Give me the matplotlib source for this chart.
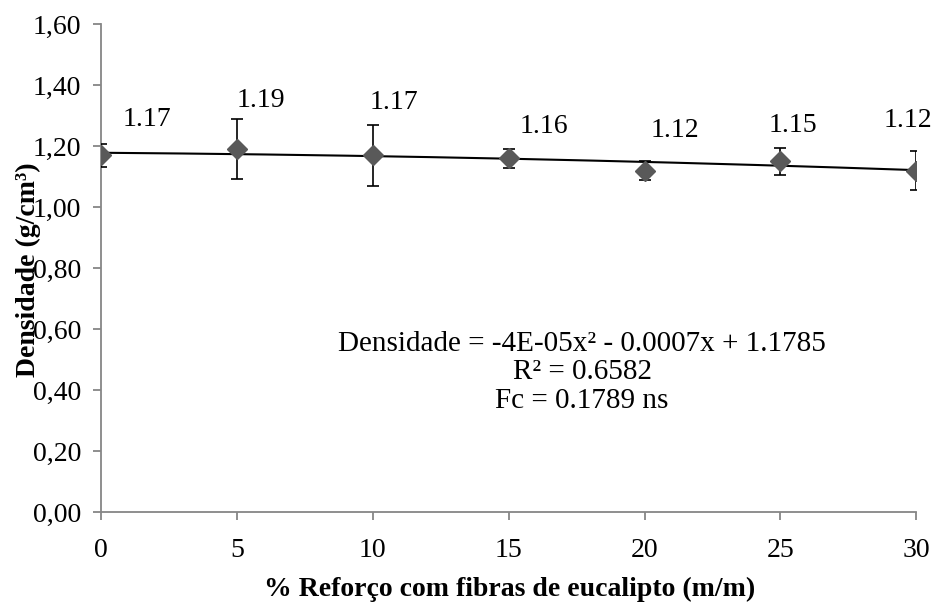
import numpy as np
import matplotlib
matplotlib.use("Agg")
import matplotlib.pyplot as plt

# data: density by fibre content
reforco = [0, 5, 10, 15, 20, 25, 30]
densidade = [1.17, 1.19, 1.17, 1.16, 1.12, 1.15, 1.12]
desvio = [0.038, 0.098, 0.10, 0.031, 0.030, 0.044, 0.064]
rotulos = ["1.17", "1.19", "1.17", "1.16", "1.12", "1.15", "1.12"]

# fitted polynomial (from the equation shown on the chart)
coef = [-4e-05, -0.0007, 1.1785]

y_ticks = [0.0, 0.2, 0.4, 0.6, 0.8, 1.0, 1.2, 1.4, 1.6]
x_ticks = [0, 5, 10, 15, 20, 25, 30]

# label offsets in points (dx, dy)
offsets = [(33, 26), (17, 35), (15, 38), (25, 23), (22, 29), (9, 26), (-6, 36)]

plt.rcParams['font.family'] = ['Liberation Serif', 'DejaVu Serif']
grey = '#868686'
fs = 20

fig = plt.figure(figsize=(9.36, 6.06), dpi=100)
ax = fig.add_axes([0.108, 0.155, 0.871, 0.805])

# trend line
xf = np.linspace(0, 30, 200)
ax.plot(xf, np.polyval(coef, xf), color='black', lw=1.5, zorder=2)

# points with error bars
ax.errorbar(reforco, densidade, yerr=desvio, fmt='D', color='#595959',
            markersize=10, ecolor='black', elinewidth=1.2, capsize=4.5,
            capthick=1.2, zorder=3)

for x, y, t, (dx, dy) in zip(reforco, densidade, rotulos, offsets):
    ax.annotate(t, (x, y), xytext=(dx, dy), textcoords='offset points',
                ha='center', va='center', fontsize=fs)

ax.set_xlim(0, 30)
ax.set_ylim(0, 1.6)
ax.set_xticks(x_ticks)
ax.set_yticks(y_ticks)
ax.set_yticklabels([f"{v:.2f}".replace('.', ',') for v in y_ticks])
ax.tick_params(axis='both', labelsize=fs, color=grey, width=1.3, length=6,
               direction='out')
ax.tick_params(axis='x', pad=12.5)
ax.tick_params(axis='y', pad=8.5)

for s in ['top', 'right']:
    ax.spines[s].set_visible(False)
for s in ['left', 'bottom']:
    ax.spines[s].set_color(grey)
    ax.spines[s].set_linewidth(1.3)

# axis titles (the y title sits over the tick labels)
fig.text(0.030, 0.555, "Densidade (g/cm³)", rotation=90, ha='center',
         va='center', fontsize=fs, fontweight='bold')
fig.text(0.545, 0.027, "% Reforço com fibras de eucalipto (m/m)", ha='center',
         va='center', fontsize=fs, fontweight='bold')

# regression summary
ax.text(17.7, 0.595, "Densidade = -4E-05x² - 0.0007x + 1.1785\nR² = 0.6582\nFc = 0.1789 ns",
        ha='center', va='top', fontsize=21, linespacing=1.13)

fig.savefig('out.png', dpi=100)
